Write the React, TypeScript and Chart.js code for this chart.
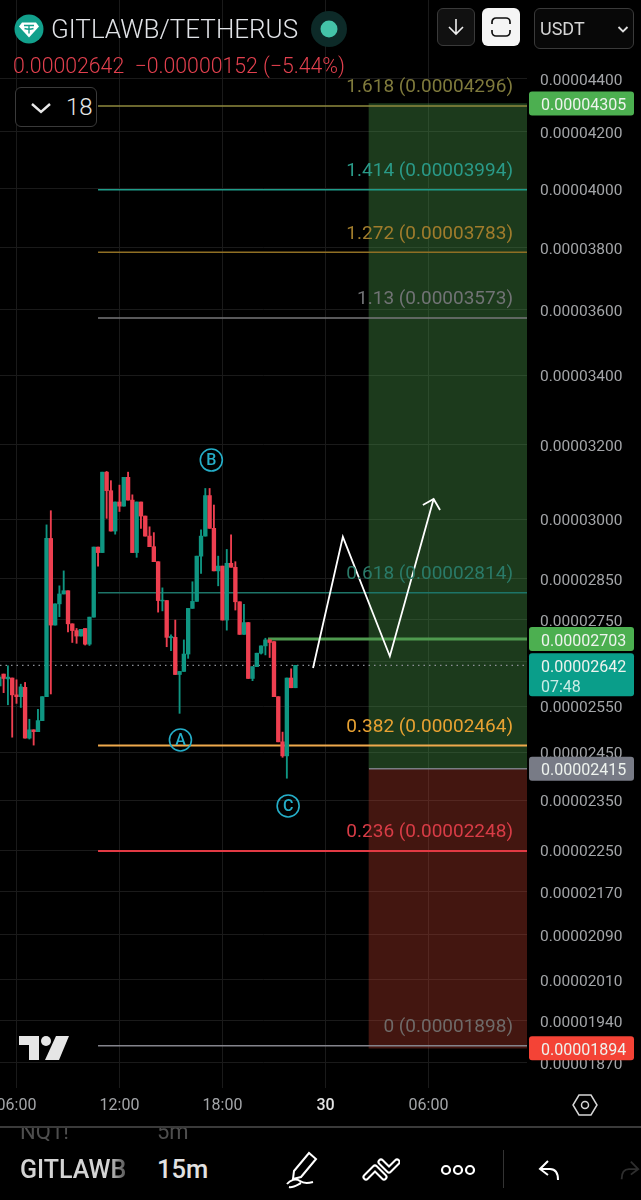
import React, { useEffect, useRef } from "react";
import { Chart, registerables, LineController } from "chart.js";

// Line controller that does not pad the chart area for its strokes and points.
class FlatLine extends LineController {
  static id = "flatLine";
  getMaxOverflow() {
    return 0;
  }
}
Chart.register(...registerables, FlatLine);

// prices are in units of 0.00000001 USDT
const UNIT = 1e-8;
const FIRST_SLOT = -4; // 15m candles, slot 0 = 06:00
const opens = [2595,2622,2611,2613,2575,2571,2592,2480,2498,2494,2518,2571,2950,2736,2787,2811,2819,2739,2723,2710,2728,2691,2755,2928,2914,3125,3075,2969,3045,3034,3111,3050,2914,3045,3008,2956,2929,2891,2794,2795,2706,2707,2621,2628,2668,2776,2793,2905,2956,3062,2976,2868,2880,2748,2887,2877,2792,2714,2742,2612,2639,2670,2687,2701,2697,2571,2472,2442,2613,2591];
const highs = [2619,2622,2641,2613,2609,2599,2603,2521,2498,2543,2571,2985,3022,2787,2831,2868,2819,2739,2728,2726,2728,2755,2928,2928,3125,3127,3102,3045,3090,3111,3125,3064,3045,3045,3008,2980,2965,2891,2826,2795,2713,2748,2628,2701,2776,2841,2905,2972,3081,3081,3037,2905,2880,2922,2959,2891,2792,2786,2742,2639,2670,2687,2705,2701,2697,2571,2493,2613,2634,2642];
const lows = [2595,2580,2553,2482,2556,2547,2480,2478,2465,2494,2518,2571,2577,2736,2756,2811,2720,2695,2693,2710,2689,2688,2755,2880,2914,3002,2969,2961,3020,3034,3050,2914,2902,2976,2956,2929,2891,2767,2770,2685,2676,2621,2534,2628,2658,2776,2793,2862,2956,2976,2868,2831,2748,2724,2877,2772,2714,2714,2612,2607,2639,2668,2666,2660,2571,2472,2439,2395,2591,2591];
const closes = [2615,2612,2615,2575,2571,2593,2480,2498,2494,2518,2571,2950,2736,2787,2811,2819,2739,2723,2710,2726,2691,2755,2928,2914,3125,3075,2969,3045,3034,3111,3050,2914,3045,3008,2956,2929,2891,2795,2796,2707,2709,2621,2628,2668,2776,2793,2905,2956,3062,2976,2868,2880,2748,2887,2877,2792,2714,2742,2612,2639,2670,2687,2701,2695,2571,2472,2442,2613,2591,2642];

const priceTicks = [4400,4200,4000,3800,3600,3400,3200,3000,2850,2750,2650,2550,2450,2350,2250,2170,2090,2010,1940,1870];
const timeTickSlots = [0, 24, 48, 72, 96];
const timeTickLabels = ["06:00", "12:00", "18:00", "30", "06:00"];

const fibNames = ["1.618","1.414","1.272","1.13","0.618","0.382","0.236","0"];
const fibPrices = [4296,3994,3783,3573,2814,2464,2248,1898];
const fibLineColors = ["#8f8a3e","#1f9c8a","#8f6f24","#77777a","#1d7468","#efa94c","#e23a44","#84848c"];
const fibTextColors = ["#7f7a3c","#2a9a88","#a07c2c","#717375","#2a7a68","#e8a232","#d83c46","#6f6a68"];

const waveSlots = [69.1, 76.05, 87.0, 97.2];
const wavePrices = [2636, 2954, 2663, 3053];
const arrowSlots = [94.7, 97.2, 98.7];
const arrowPrices = [3037, 3053, 3024];

const waveLetters = ["A", "B", "C"];
const waveLetterSlots = [38.2, 45.4, 63.3];
const waveLetterPrices = [2476, 3158, 2338];

const targetPrice = 4305;
const entryPrice = 2415;
const stopPrice = 1894;
const lastPrice = 2642;
const alertPrice = 2703;
const countdown = "07:48";

const UP = "#0f9682";
const DOWN = "#ee3f50";
const FONT = "Roboto, sans-serif";
const fmt = (v: number) => (v * UNIT).toFixed(8);

function roundBox(ctx: CanvasRenderingContext2D, x: number, y: number, w: number, h: number, r: number) {
  ctx.beginPath();
  ctx.roundRect(x, y, w, h, r);
  ctx.fill();
}

const overlayPlugin = {
  id: "overlay",
  afterDatasetsDraw(chart: any) {
    const { ctx, scales } = chart;
    const { x, y } = scales;
    ctx.save();
    // fib level captions
    ctx.font = `19px ${FONT}`;
    ctx.textAlign = "right";
    ctx.textBaseline = "middle";
    fibNames.forEach((n, i) => {
      ctx.fillStyle = fibTextColors[i];
      ctx.fillText(`${n} (${fmt(fibPrices[i])})`, x.getPixelForValue(115.7), y.getPixelForValue(fibPrices[i]) - 18.5);
    });
    // wave letters
    ctx.font = `500 16px ${FONT}`;
    ctx.textAlign = "center";
    ctx.fillStyle = "#25aec8";
    waveLetters.forEach((l, i) => {
      ctx.fillText(l, x.getPixelForValue(waveLetterSlots[i]), y.getPixelForValue(waveLetterPrices[i]) + 1);
    });
    // price-axis tags
    ctx.textAlign = "left";
    ctx.font = `16px ${FONT}`;
    const tag = (p: number, color: string) => {
      const py = y.getPixelForValue(p);
      ctx.fillStyle = color;
      roundBox(ctx, 529, py - 12, 105, 24, 3);
      ctx.fillStyle = "#eef3ee";
      ctx.fillText(fmt(p), 541, py + 2.5);
    };
    tag(targetPrice, "#4caf50");
    tag(alertPrice, "#4caf50");
    tag(entryPrice, "#787b86");
    tag(stopPrice, "#f44336");
    const ly = y.getPixelForValue(lastPrice);
    ctx.fillStyle = "#0a9e8a";
    roundBox(ctx, 529, ly - 12, 105, 43, 3);
    ctx.fillStyle = "#eef3ee";
    ctx.fillText(fmt(lastPrice), 541, ly + 2.5);
    ctx.fillStyle = "#c9ece6";
    ctx.fillText(countdown, 541, ly + 22.5);
    ctx.restore();
  },
};

const hline = (price: number, fromSlot: number, color: string, width: number, order: number, dash: number[] = []) => ({
  type: "flatLine" as const,
  data: [{ x: fromSlot, y: price }, { x: 118.96, y: price }],
  borderColor: color,
  borderWidth: width,
  borderDash: dash,
  pointRadius: 0,
  order,
});

const box = (low: number, high: number, color: string) => ({
  type: "bar" as const,
  data: [{ x: 100.55, y: [low, high] }],
  backgroundColor: color,
  barThickness: 158,
  grouped: false,
  borderWidth: 0,
  borderSkipped: false,
  order: 20,
});

export default function App() {
  const ref = useRef<HTMLCanvasElement>(null);
  useEffect(() => {
    document.body.style.margin = "0";
    document.body.style.background = "#000";
    const slots = opens.map((_, i) => FIRST_SLOT + i);
    const colors = opens.map((o, i) => (closes[i] >= o ? UP : DOWN));
    const chart = new Chart(ref.current!, {
      type: "bar",
      data: {
        datasets: [
          box(entryPrice, targetPrice, "rgba(74,152,74,0.38)") as any,
          box(stopPrice, entryPrice, "rgba(215,70,53,0.31)") as any,
          ...fibPrices.map((p, i) => hline(p, 19, fibLineColors[i], i === 5 || i === 6 ? 2 : 1.5, 10) as any),
          hline(entryPrice, 82.15, "#7a7d85", 1.5, 9) as any,
          hline(lastPrice, -3.845, "#8c8f96", 1.2, 9, [1.5, 4]) as any,
          hline(alertPrice, 58.6, "#4f9a4f", 3, 9) as any,
          {
            type: "bar",
            data: slots.map((s, i) => ({ x: s, y: [lows[i], highs[i]] })),
            backgroundColor: colors,
            barThickness: 1.2,
            grouped: false,
            borderWidth: 0,
            borderSkipped: false,
            order: 4,
          } as any,
          {
            type: "bar",
            data: slots.map((s, i) => ({ x: s, y: [opens[i], closes[i]] })),
            backgroundColor: colors,
            barThickness: 3.7,
            grouped: false,
            borderWidth: 0,
            borderSkipped: false,
            order: 3,
          } as any,
          {
            type: "flatLine",
            data: waveSlots.map((s, i) => ({ x: s, y: wavePrices[i] })),
            borderColor: "#ffffff",
            borderWidth: 1.8,
            pointRadius: 0,
            order: 1,
          } as any,
          {
            type: "flatLine",
            data: arrowSlots.map((s, i) => ({ x: s, y: arrowPrices[i] })),
            borderColor: "#ffffff",
            borderWidth: 1.8,
            pointRadius: 0,
            order: 1,
          } as any,
          {
            type: "flatLine",
            data: waveLetterSlots.map((s, i) => ({ x: s, y: waveLetterPrices[i] })),
            showLine: false,
            pointStyle: "circle",
            pointRadius: 11,
            pointBorderColor: "#25aec8",
            pointBorderWidth: 1.6,
            pointBackgroundColor: "rgba(0,0,0,0)",
            order: 1,
            clip: false,
          } as any,
        ],
      },
      options: {
        responsive: false,
        animation: false,
        events: [],
        layout: { padding: 0 },
        plugins: { legend: { display: false }, tooltip: { enabled: false }, title: { display: false } },
        scales: {
          x: {
            type: "linear",
            bounds: "data",
            min: -3.845,
            max: 118.96,
            offset: false,
            border: { display: false },
            grid: { color: "#1a1a1a", lineWidth: 1, drawTicks: false, offset: false },
            afterBuildTicks: (s: any) => {
              s.ticks = timeTickSlots.map((value) => ({ value }));
            },
            afterFit: (s: any) => {
              s.height = 39;
              s.paddingLeft = 0;
              s.paddingRight = 0;
            },
            ticks: {
              autoSkip: false,
              maxRotation: 0,
              padding: 8,
              callback: (v: any) => timeTickLabels[timeTickSlots.indexOf(v)] ?? "",
              color: (c: any) => (c.tick && c.tick.value === 72 ? "#e4e4e4" : "#a3a5a8"),
              font: (c: any) => ({
                family: FONT,
                size: 16,
                weight: c.tick && c.tick.value === 72 ? "500" : "400",
              }),
            },
          },
          y: {
            type: "logarithmic",
            position: "right",
            bounds: "data",
            min: 1829.7,
            max: 4710.6,
            beginAtZero: false,
            border: { display: false },
            grid: { color: "#1a1a1a", lineWidth: 1, drawTicks: false },
            afterBuildTicks: (s: any) => {
              s.ticks = priceTicks.map((value) => ({ value }));
            },
            afterFit: (s: any) => {
              s.width = 114;
              s.paddingTop = 0;
              s.paddingBottom = 0;
            },
            afterUpdate: (s: any) => {
              // the platform's price labels sit a little below their grid line
              if (s.__labelShift) return;
              s.__labelShift = true;
              const compute = s._computeLabelItems;
              s._computeLabelItems = (area: any) =>
                compute.call(s, area).map((item: any) => {
                  item.options.translation[1] += 2.5;
                  return item;
                });
              s._labelItems = null;
            },
            ticks: {
              autoSkip: false,
              padding: 13,
              callback: (v: any) => fmt(Number(v)),
              color: "#a3a5a8",
              font: { family: FONT, size: 15.5 },
            },
          },
        },
      } as any,
      plugins: [overlayPlugin as any],
    });
    return () => chart.destroy();
  }, []);

  const abs = (s: React.CSSProperties): React.CSSProperties => ({ position: "absolute", ...s });
  const font: React.CSSProperties = { fontFamily: FONT, whiteSpace: "nowrap", lineHeight: 1 };

  return (
    <div style={abs({ left: 0, top: 0, width: 641, height: 1200, background: "#000", overflow: "hidden" })}>
      <canvas ref={ref} width={641} height={1127} style={abs({ left: 0, top: 0, display: "block" })} />

      {/* header */}
      <svg style={abs({ left: 14, top: 14 })} width="30" height="30" viewBox="0 0 30 30">
        <circle cx="15" cy="15" r="14.5" fill="#12a08c" />
        <path d="M8 8.5h14l3 4-10 11-10-11z" fill="#fff" />
        <path d="M10 11.5h10M15 11.5v8M10.5 14.5c3 1 6 1 9 0" stroke="#12a08c" strokeWidth="1.4" fill="none" />
      </svg>
      <div style={{ ...font, ...abs({ left: 51, top: 16, fontSize: 26, fontWeight: 300, color: "#e2e4e8" }) }}>GITLAWB/TETHERUS</div>
      <svg style={abs({ left: 310, top: 10 })} width="38" height="38">
        <circle cx="19" cy="19" r="18" fill="#0d2a28" />
        <circle cx="19" cy="19" r="8.5" fill="#44c3a8" />
      </svg>
      <div style={{ ...font, ...abs({ left: 13, top: 55, fontSize: 21.25, fontWeight: 300, color: "#e2404e", whiteSpace: "pre" }) }}>{"0.00002642  −0.00000152 (−5.44%)"}</div>
      <div style={abs({ left: 15, top: 87, width: 82, height: 40, boxSizing: "border-box", border: "1.5px solid #3a3a3a", borderRadius: 6, background: "#000" })} />
      <svg style={abs({ left: 30, top: 101 })} width="22" height="14">
        <path d="M2 3l9 8 9-8" stroke="#e8e8e8" strokeWidth="2.4" fill="none" />
      </svg>
      <div style={{ ...font, ...abs({ left: 66, top: 95, fontSize: 24, fontWeight: 300, color: "#e6e6e6" }) }}>18</div>

      {/* top-right buttons */}
      <div style={abs({ left: 437, top: 8, width: 38, height: 38, boxSizing: "border-box", border: "1.5px solid #3a3a3a", borderRadius: 6, background: "#111" })} />
      <svg style={abs({ left: 446, top: 17 })} width="20" height="20">
        <path d="M10 2v15M3 10l7 7 7-7" stroke="#eee" strokeWidth="1.6" fill="none" />
      </svg>
      <div style={abs({ left: 482, top: 8, width: 38, height: 38, borderRadius: 6, background: "#f5f5f5" })} />
      <svg style={abs({ left: 491, top: 17 })} width="20" height="20">
        <path d="M1 7V5a4 4 0 0 1 4-4h10a4 4 0 0 1 4 4v2M1 13v2a4 4 0 0 0 4 4h10a4 4 0 0 0 4-4v-2" stroke="#111" strokeWidth="1.7" fill="none" />
      </svg>
      <div style={abs({ left: 534, top: 8, width: 100, height: 41, boxSizing: "border-box", border: "1.5px solid #3a3a3a", borderRadius: 6, background: "#080808" })} />
      <div style={{ ...font, ...abs({ left: 540, top: 20, fontSize: 18, color: "#d6d6d6" }) }}>USDT</div>
      <svg style={abs({ left: 617, top: 25 })} width="12" height="9">
        <path d="M1.5 2l4.5 4.5L10.500 2" stroke="#ddd" strokeWidth="1.8" fill="none" />
      </svg>

      {/* logo */}
      <svg style={abs({ left: 18, top: 1035 })} width="52" height="26" viewBox="0 0 52 26">
        <path d="M1 1h20v24h-10V10H1z" fill="#e6e6e6" />
        <circle cx="28" cy="6" r="5" fill="#e6e6e6" />
        <path d="M38 1h13L41 25H27z" fill="#e6e6e6" />
      </svg>

      {/* time axis settings */}
      <svg style={abs({ left: 572, top: 1093 })} width="26" height="24" viewBox="0 0 26 24">
        <path d="M7 2h12l6 10-6 10H7L1 12z" stroke="#d6d6d6" strokeWidth="1.5" fill="none" />
        <circle cx="13" cy="12" r="3.500" stroke="#d6d6d6" strokeWidth="1.5" fill="none" />
      </svg>

      {/* bottom bar */}
      <div style={abs({ left: 0, top: 1126, width: 641, height: 1.5, background: "#3a3a3a" })} />
      <div style={abs({ left: 0, top: 1128, width: 641, height: 13, overflow: "hidden" })}>
        <div style={{ ...font, ...abs({ left: 20, top: -7, fontSize: 22, color: "#4e4e4e" }) }}>NQ1!</div>
        <div style={{ ...font, ...abs({ left: 157, top: -7, fontSize: 22, color: "#4e4e4e" }) }}>5m</div>
      </div>
      <div style={abs({ left: 20, top: 1155, width: 110, height: 30, overflow: "hidden", WebkitMaskImage: "linear-gradient(90deg,#000 80%,rgba(0,0,0,.25))" })}>
        <div style={{ ...font, ...abs({ left: 0, top: 2, fontSize: 25, fontWeight: 500, color: "#d4d4d4" }) }}>GITLAWB</div>
      </div>
      <div style={{ ...font, ...abs({ left: 157, top: 1157, fontSize: 25.5, fontWeight: 500, color: "#e2e2e2" }) }}>15m</div>
      <svg style={abs({ left: 285, top: 1150 })} width="34" height="40" viewBox="0 0 34 40">
        <path d="M9 21L24 3l7 6-15 18-8 2z" stroke="#fff" strokeWidth="2" fill="none" />
        <path d="M2 34c3-4 9-6 13-3s9 2 13 1M4 37c4 1 8-2 12-4" stroke="#fff" strokeWidth="2" fill="none" />
      </svg>
      <svg style={abs({ left: 360, top: 1156 })} width="40" height="26" viewBox="0 0 40 26">
        <path d="M6 21l9-9 9 9" stroke="#fff" strokeWidth="7" strokeLinejoin="round" strokeLinecap="round" fill="none" />
        <path d="M6 21l9-9 9 9" stroke="#000" strokeWidth="3" strokeLinejoin="round" strokeLinecap="round" fill="none" />
        <path d="M21 6l8 8 8-8" stroke="#fff" strokeWidth="7" strokeLinejoin="round" strokeLinecap="round" fill="none" />
        <path d="M21 6l8 8 8-8" stroke="#000" strokeWidth="3" strokeLinejoin="round" strokeLinecap="round" fill="none" />
      </svg>
      <svg style={abs({ left: 440, top: 1162 })} width="36" height="16" viewBox="0 0 36 16">
        <circle cx="6" cy="8" r="4" stroke="#fff" strokeWidth="2.2" fill="none" />
        <circle cx="18" cy="8" r="4" stroke="#fff" strokeWidth="2.2" fill="none" />
        <circle cx="30" cy="8" r="4" stroke="#fff" strokeWidth="2.2" fill="none" />
      </svg>
      <div style={abs({ left: 503, top: 1150, width: 1, height: 38, background: "#333" })} />
      <svg style={abs({ left: 537, top: 1158 })} width="26" height="24" viewBox="0 0 26 24">
        <path d="M11 3L3 11l8 6M3 11h10c5 0 8 3 8 11" stroke="#fff" strokeWidth="2" fill="none" />
      </svg>
      <svg style={abs({ left: 617, top: 1158 })} width="24" height="24" viewBox="0 0 26 24">
        <path d="M15 3l8 8-8 6M23 11H13c-5 0-8 3-8 11" stroke="#2e2e2e" strokeWidth="2" fill="none" />
      </svg>
    </div>
  );
}
